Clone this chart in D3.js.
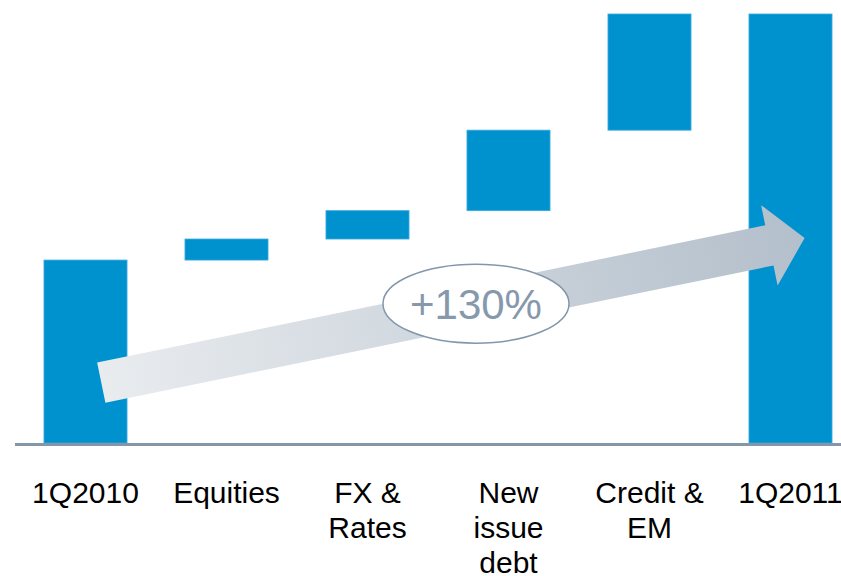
<!DOCTYPE html>
<html lang="en">
<head>
  <meta charset="UTF-8" />
  <title>Waterfall 1Q2010 to 1Q2011</title>
  <style>
    body { margin: 0; padding: 0; background: #fff; }
    svg { display: block; font-family: "Liberation Sans", Arial, sans-serif; }
  </style>
  <script src="https://d3js.org/d3.v7.min.js"></script>
</head>
<body>
  <svg width="841" height="576"></svg>

  <script>
    // categories and values (1Q2010 = 100)
    const categories = ["1Q2010", "Equities", "FX & Rates", "New issue debt", "Credit & EM", "1Q2011"];
    const labelLines = [["1Q2010"], ["Equities"], ["FX &", "Rates"], ["New", "issue", "debt"], ["Credit &", "EM"], ["1Q2011"]];
    const startValue = 100;
    const deltas = [11.5, 15.5, 44, 63.5];
    const endValue = 234.5;
    const growthLabel = "+130%";

    // arrow annotation anchors (category, position inside band, value)
    const arrowFrom = { cat: "1Q2010", pos: 0.69, value: 33 };
    const arrowTo = { cat: "1Q2011", pos: 0.67, value: 112 };

    const svg = d3.select("svg");
    const width = +svg.attr("width");
    const baseY = 443;

    // build the floating segments
    let running = startValue;
    const segs = [{ cat: categories[0], y0: 0, y1: startValue }];
    deltas.forEach((d, i) => {
      segs.push({ cat: categories[i + 1], y0: running, y1: running + d });
      running += d;
    });
    segs.push({ cat: categories[categories.length - 1], y0: 0, y1: endValue });

    const x = d3.scaleBand()
      .domain(categories)
      .range([15, 861])
      .paddingInner(0.411)
      .paddingOuter(0.2055);

    const y = d3.scaleLinear()
      .domain([0, endValue])
      .range([baseY, 14]);

    // bars
    svg.append("g")
      .selectAll("rect")
      .data(segs)
      .join("rect")
      .attr("x", d => x(d.cat))
      .attr("width", x.bandwidth())
      .attr("y", d => y(d.y1))
      .attr("height", d => y(d.y0) - y(d.y1))
      .attr("fill", "#0092cf")
      .attr("stroke", "#3aaade")
      .attr("stroke-width", 0.8);

    // baseline
    svg.append("line")
      .attr("x1", 15).attr("x2", width)
      .attr("y1", baseY + 1.5).attr("y2", baseY + 1.5)
      .attr("stroke", "#8497a9")
      .attr("stroke-width", 3);

    // growth arrow, drawn along its own axis in a rotated group
    const ax0 = x(arrowFrom.cat) + x.bandwidth() * arrowFrom.pos, ay0 = y(arrowFrom.value);
    const ax1 = x(arrowTo.cat) + x.bandwidth() * arrowTo.pos, ay1 = y(arrowTo.value);
    const len = Math.hypot(ax1 - ax0, ay1 - ay0);
    const ang = Math.atan2(ay1 - ay0, ax1 - ax0) * 180 / Math.PI;
    const shaftHalf = 20.5, headHalf = 41, headLen = 36;

    const grad = svg.append("defs").append("linearGradient")
      .attr("id", "arrowGrad")
      .attr("gradientUnits", "userSpaceOnUse")
      .attr("x1", 0).attr("y1", 0)
      .attr("x2", len).attr("y2", 0);
    grad.append("stop").attr("offset", "0%").attr("stop-color", "#e9ecef");
    grad.append("stop").attr("offset", "100%").attr("stop-color", "#b3bfcb");

    const arrowPts = [
      [0, -shaftHalf], [len - headLen, -shaftHalf], [len - headLen, -headHalf],
      [len, 0], [len - headLen, headHalf], [len - headLen, shaftHalf], [0, shaftHalf]
    ];
    svg.append("g")
      .attr("transform", `translate(${ax0},${ay0}) rotate(${ang})`)
      .append("polygon")
      .attr("points", arrowPts.map(p => p.join(",")).join(" "))
      .attr("fill", "url(#arrowGrad)");

    // ellipse label on the arrow
    const ex = 476;
    const ey = ay0 + (ex - ax0) * (ay1 - ay0) / (ax1 - ax0) - 2;
    svg.append("ellipse")
      .attr("cx", ex).attr("cy", ey)
      .attr("rx", 93).attr("ry", 39.5)
      .attr("fill", "#fff")
      .attr("stroke", "#8297ab")
      .attr("stroke-width", 1.5);
    svg.append("text")
      .attr("x", ex).attr("y", ey + 15)
      .attr("text-anchor", "middle")
      .attr("font-size", 42)
      .attr("fill", "#8699ac")
      .text(growthLabel);

    // category labels
    const labels = svg.append("g")
      .selectAll("text")
      .data(categories)
      .join("text")
      .attr("x", d => x(d) + x.bandwidth() / 2)
      .attr("y", 503)
      .attr("text-anchor", "middle")
      .attr("font-size", 30)
      .attr("fill", "#000");
    labels.each(function(d, i) {
      d3.select(this).selectAll("tspan")
        .data(labelLines[i])
        .join("tspan")
        .attr("x", x(d) + x.bandwidth() / 2)
        .attr("dy", (t, j) => j === 0 ? 0 : 35)
        .text(t => t);
    });
  </script>
</body>
</html>
